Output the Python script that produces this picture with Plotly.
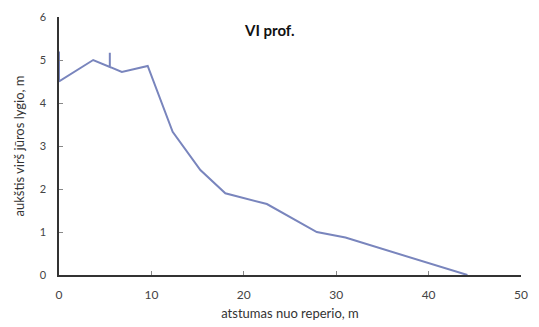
import plotly.graph_objects as go

distance = [0, 0, 3.7, 5.5, 5.5, 5.5, 6.8, 9.6, 12.3, 15.3, 18.0, 22.5, 27.9, 31.0, 44.2]
height = [5.2, 4.5, 5.0, 4.84, 5.17, 4.84, 4.72, 4.86, 3.33, 2.44, 1.9, 1.65, 1.0, 0.87, 0.0]
x_ticks = [0, 10, 20, 30, 40, 50]
y_ticks = [0, 1, 2, 3, 4, 5, 6]

fig = go.Figure()
fig.add_trace(go.Scatter(x=distance, y=height, mode="lines",
                         line=dict(color="#7985bd", width=2), showlegend=False))

fig.update_layout(
    width=539, height=327,
    margin=dict(l=59, r=18, t=17, b=52),
    paper_bgcolor="white", plot_bgcolor="white",
    font=dict(family="Lato", color="#333", size=12),
    annotations=[dict(text="<b>VI prof.</b>", x=0.455, y=0.95, xref="paper", yref="paper",
                      showarrow=False, font=dict(size=15, color="#111"), xanchor="center", yanchor="middle")],
)
fig.update_xaxes(range=[0, 50], tickvals=x_ticks, showgrid=False, zeroline=False, automargin=False,
                 showline=True, linecolor="#333", linewidth=1.5, ticks="inside", ticklen=4,
                 tickcolor="#888", ticklabelstandoff=8,
                 title=dict(text="atstumas nuo reperio, m", font=dict(size=13), standoff=8),
                 tickfont=dict(size=12, color="#444"))
fig.update_yaxes(range=[0, 6], tickvals=y_ticks, showgrid=False, zeroline=False, automargin=False,
                 showline=True, linecolor="#333", linewidth=1.5, ticks="inside", ticklen=4,
                 tickcolor="#888", ticklabelstandoff=9,
                 title=dict(text="aukštis virš jūros lygio, m", font=dict(size=13), standoff=12),
                 tickfont=dict(size=11, color="#444"))

fig.write_html("out.html")
